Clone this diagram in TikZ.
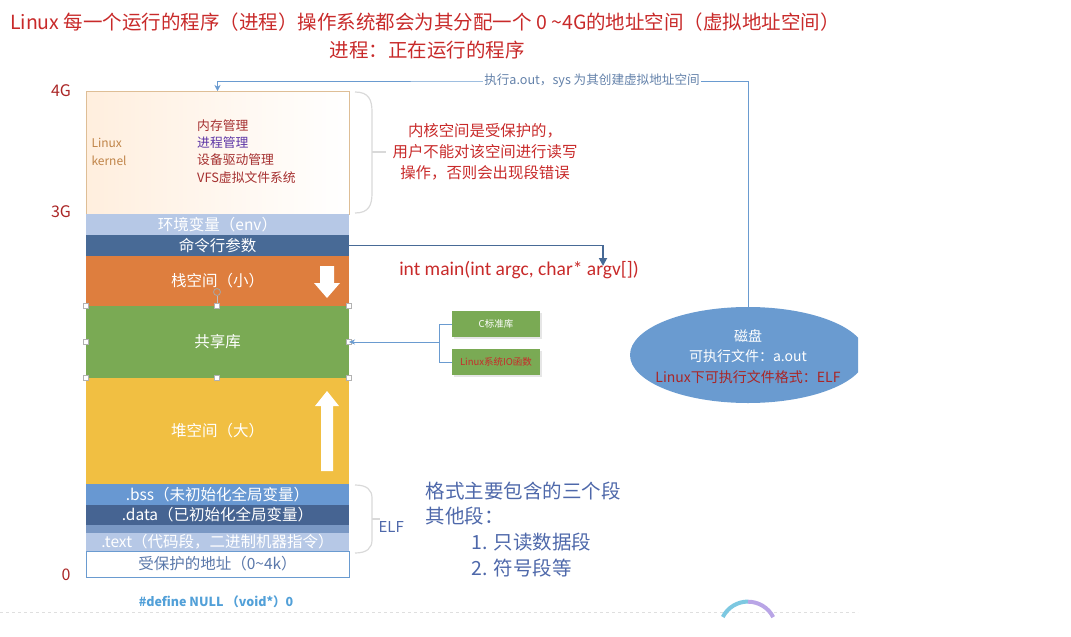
\documentclass[tikz,border=0pt]{standalone}
\usepackage{fontspec}
\setmainfont{Noto Sans CJK SC}
\newfontfamily\latinfont{Carlito}
\usepackage{xcolor}
\usetikzlibrary{positioning,shapes.geometric,shadows,arrows.meta}

\definecolor{titlered}{RGB}{200,42,42}
\definecolor{addrred}{RGB}{170,38,38}
\definecolor{kernred}{RGB}{165,48,48}
\definecolor{kernpurple}{RGB}{92,52,165}
\definecolor{kerntan}{RGB}{192,132,72}
\definecolor{kernborder}{RGB}{222,190,150}
\definecolor{envblue}{RGB}{182,200,230}
\definecolor{cmdblue}{RGB}{72,106,150}
\definecolor{stackorange}{RGB}{222,126,62}
\definecolor{sharedgreen}{RGB}{122,170,84}
\definecolor{heapyellow}{RGB}{241,191,66}
\definecolor{bssblue}{RGB}{104,152,210}
\definecolor{datablue}{RGB}{70,100,146}
\definecolor{bandblue}{RGB}{122,152,196}
\definecolor{lineblue}{RGB}{106,155,208}
\definecolor{protblue}{RGB}{90,120,170}
\definecolor{notblue}{RGB}{78,104,170}
\definecolor{nullblue}{RGB}{82,160,216}
\definecolor{execgrey}{RGB}{100,130,170}
\definecolor{arccyan}{RGB}{125,200,225}
\definecolor{arcviolet}{RGB}{185,165,230}

\begin{document}
\begin{tikzpicture}[x=1pt, y=-1pt,
    seg/.style={minimum width=263pt, inner sep=0pt, outer sep=0pt, text=white,
        font=\fontsize{15.5}{17}\selectfont},
    addr/.style={text=addrred, font=\fontsize{16}{18}\selectfont},
    bracket/.style={gray!30, line width=1.2pt},
    libbox/.style={fill=sharedgreen, minimum width=88pt, minimum height=26pt, inner sep=0pt,
        font=\fontsize{9.5}{11}\selectfont,
        drop shadow={opacity=0.2, shadow xshift=1.5pt, shadow yshift=-1.5pt}},
    note/.style={anchor=west, text=notblue, font=\fontsize{19.5}{21}\selectfont}]
    \useasboundingbox (0,0) rectangle (1071,637);

    % ===== Title =====
    \node[text=titlered, font=\fontsize{19.5}{21}\selectfont] (title) at (425,22)
        {Linux 每一个运行的程序（进程）操作系统都会为其分配一个 0 \textasciitilde4G的地址空间（虚拟地址空间）};
    \node[text=titlered, font=\fontsize{19.5}{21}\selectfont] (subtitle) at (427,50) {进程：正在运行的程序};

    % ===== Address labels =====
    \node[addr] (a4g) at (61,91) {4G};
    \node[addr] (a3g) at (61,212) {3G};
    \node[addr] (a0) at (66,575) {0};

    % ===== Kernel space =====
    \node[draw=kernborder, left color=orange!13!white, right color=white,
        minimum width=263pt, minimum height=123pt, inner sep=0pt, outer sep=0pt,
        anchor=north west] (kernel) at (86,91) {};
    \node[anchor=west, text=kerntan, align=left, font=\fontsize{12}{18}\selectfont] (kname) at (88,152) {Linux\\kernel};
    \foreach \y/\t/\c in {126/内存管理/kernred, 143/进程管理/kernpurple,
                          160/设备驱动管理/kernred, 178/VFS虚拟文件系统/kernred} {
        \node[anchor=west, inner sep=0pt, text=\c, font=\fontsize{12.8}{14}\selectfont] at (197,\y) {\t};
    }

    % ===== User space segments =====
    \node[seg, fill=envblue, minimum height=21pt, anchor=north west] (env) at (86,214) {环境变量（env）};
    \node[seg, fill=cmdblue, minimum height=21pt, below=0pt of env] (cmd) {命令行参数};
    \node[seg, fill=stackorange, minimum height=50pt, below=0pt of cmd] (stack) {栈空间（小）};
    \node[seg, fill=sharedgreen, minimum height=72pt, below=0pt of stack] (shared) {共享库};
    \node[seg, fill=heapyellow, minimum height=106pt, below=0pt of shared] (heap) {堆空间（大）};
    \node[seg, fill=bssblue, minimum height=21pt, below=0pt of heap] (bss) {.bss（未初始化全局变量）};
    \node[seg, fill=datablue, minimum height=20pt, below=0pt of bss] (data) {.data（已初始化全局变量）};
    \node[seg, fill=bandblue, minimum height=8pt, below=0pt of data] (band) {};
    \node[seg, fill=envblue, minimum height=18pt, below=0pt of band] (text) {.text（代码段，二进制机器指令）};
    \node[seg, draw=lineblue, fill=white, text=protblue, minimum height=26pt, below=0pt of text] (prot) {受保护的地址（0\textasciitilde4k）};
    \node[text=nullblue, font=\bfseries\fontsize{12.5}{14}\selectfont] (null) at (216,602) {\#define NULL （void*）0};

    % Stack / heap growth arrows
    \fill[white] (320,266) -- (334,266) -- (334,283) -- (340,283) -- (327,298) -- (314,283) -- (320,283) -- cycle;
    \fill[white] (327,391) -- (339,406) -- (333,406) -- (333,471) -- (321,471) -- (321,406) -- (315,406) -- cycle;

    % Selection handles on shared library
    \draw[gray!50] (217,296) -- (217,306);
    \draw[gray!70, thick] (217,292) circle (3.5);
    \foreach \x/\y in {86/306,217/306,349/306,86/342,349/342,86/378,217/378,349/378} {
        \draw[gray!60, fill=white] (\x-2.5,\y-2.5) rectangle (\x+2.5,\y+2.5);
    }

    % ===== Kernel brace and note =====
    \draw[bracket] (355,92) .. controls (369,92) and (372,100) .. (372,112) -- (372,193)
        .. controls (372,205) and (369,213) .. (355,213);
    \draw[bracket] (372,152) -- (386,152);
    \foreach \y/\t in {131/内核空间是受保护的，, 152/用户不能对该空间进行读写, 173/操作，否则会出现段错误} {
        \node[text=titlered, font=\fontsize{15.4}{17}\selectfont] at (485,\y) {\t};
    }

    % ===== ELF brace and note =====
    \draw[bracket] (355,485) .. controls (367,485) and (372,490) .. (372,498) -- (372,540)
        .. controls (372,548) and (367,553) .. (355,553);
    \draw[bracket] (372,519) -- (380,519);
    \node[anchor=west, text=notblue, font=\fontsize{15}{17}\selectfont] (elf) at (375,527) {ELF};
    \node[note] (n1) at (422,491) {格式主要包含的三个段};
    \node[note] (n2) at (422,516) {其他段：};
    \node[note] (n3) at (468,542) {1. 只读数据段};
    \node[note] (n4) at (468,568) {2. 符号段等};

    % ===== Command line args -> main =====
    \node[text=titlered, font=\latinfont\fontsize{19.5}{22}\selectfont] (mainsig) at (519,270) {int main(int argc, char* argv[])};
    \coordinate (argtip) at (603,266);
    \draw[cmdblue, line width=1.8pt, -{Triangle[width=8pt,length=8pt]}] (cmd.east) -| (argtip);

    % ===== Libraries -> shared =====
    \node[libbox, text=white] (clib) at (496,324) {C标准库};
    \node[libbox, text=titlered] (iolib) at (496,362) {Linux系统IO函数};
    \coordinate (libjoint) at (439,342);
    \draw[lineblue] (clib.west) -| (libjoint);
    \draw[lineblue] (iolib.west) -| (libjoint);
    \draw[lineblue, -{Stealth[length=6pt,width=5pt]}] (libjoint) -- (shared.east);

    % ===== Disk =====
    \begin{scope}
        \clip (0,0) rectangle (858,637);
        \node[ellipse, fill=lineblue, minimum width=236pt, minimum height=96pt, inner sep=0pt] (disk) at (748,355) {};
    \end{scope}
    \node[text=white, font=\fontsize{14}{16}\selectfont] (dtitle) at (748,336) {磁盘};
    \node[text=white, font=\fontsize{14}{16}\selectfont] (dfile) at (748,356) {可执行文件：a.out};
    \node[text=addrred, font=\fontsize{14}{16}\selectfont] (dfmt) at (748,377) {Linux下可执行文件格式：ELF};

    % ===== Disk -> kernel (exec) =====
    \coordinate (execcorner) at (600,81);
    \draw[lineblue, -{Stealth[length=6pt,width=6pt]}] (disk.north) |- (execcorner) -| (kernel.north);
    \node[fill=white, inner sep=1pt, text=execgrey, font=\fontsize{12.6}{14}\selectfont] (execlabel) at (592,81)
        {执行a.out，sys 为其创建虚拟地址空间};

    % ===== Screen remnants at bottom =====
    \draw[gray!25, dashed] (0,612) -- (858,612);
    \draw[arccyan, line width=4pt] (722.8,617) arc (207:270:28.3);
    \draw[arcviolet, line width=4pt] (748,601.7) arc (270:333:28.3);
\end{tikzpicture}
\end{document}
